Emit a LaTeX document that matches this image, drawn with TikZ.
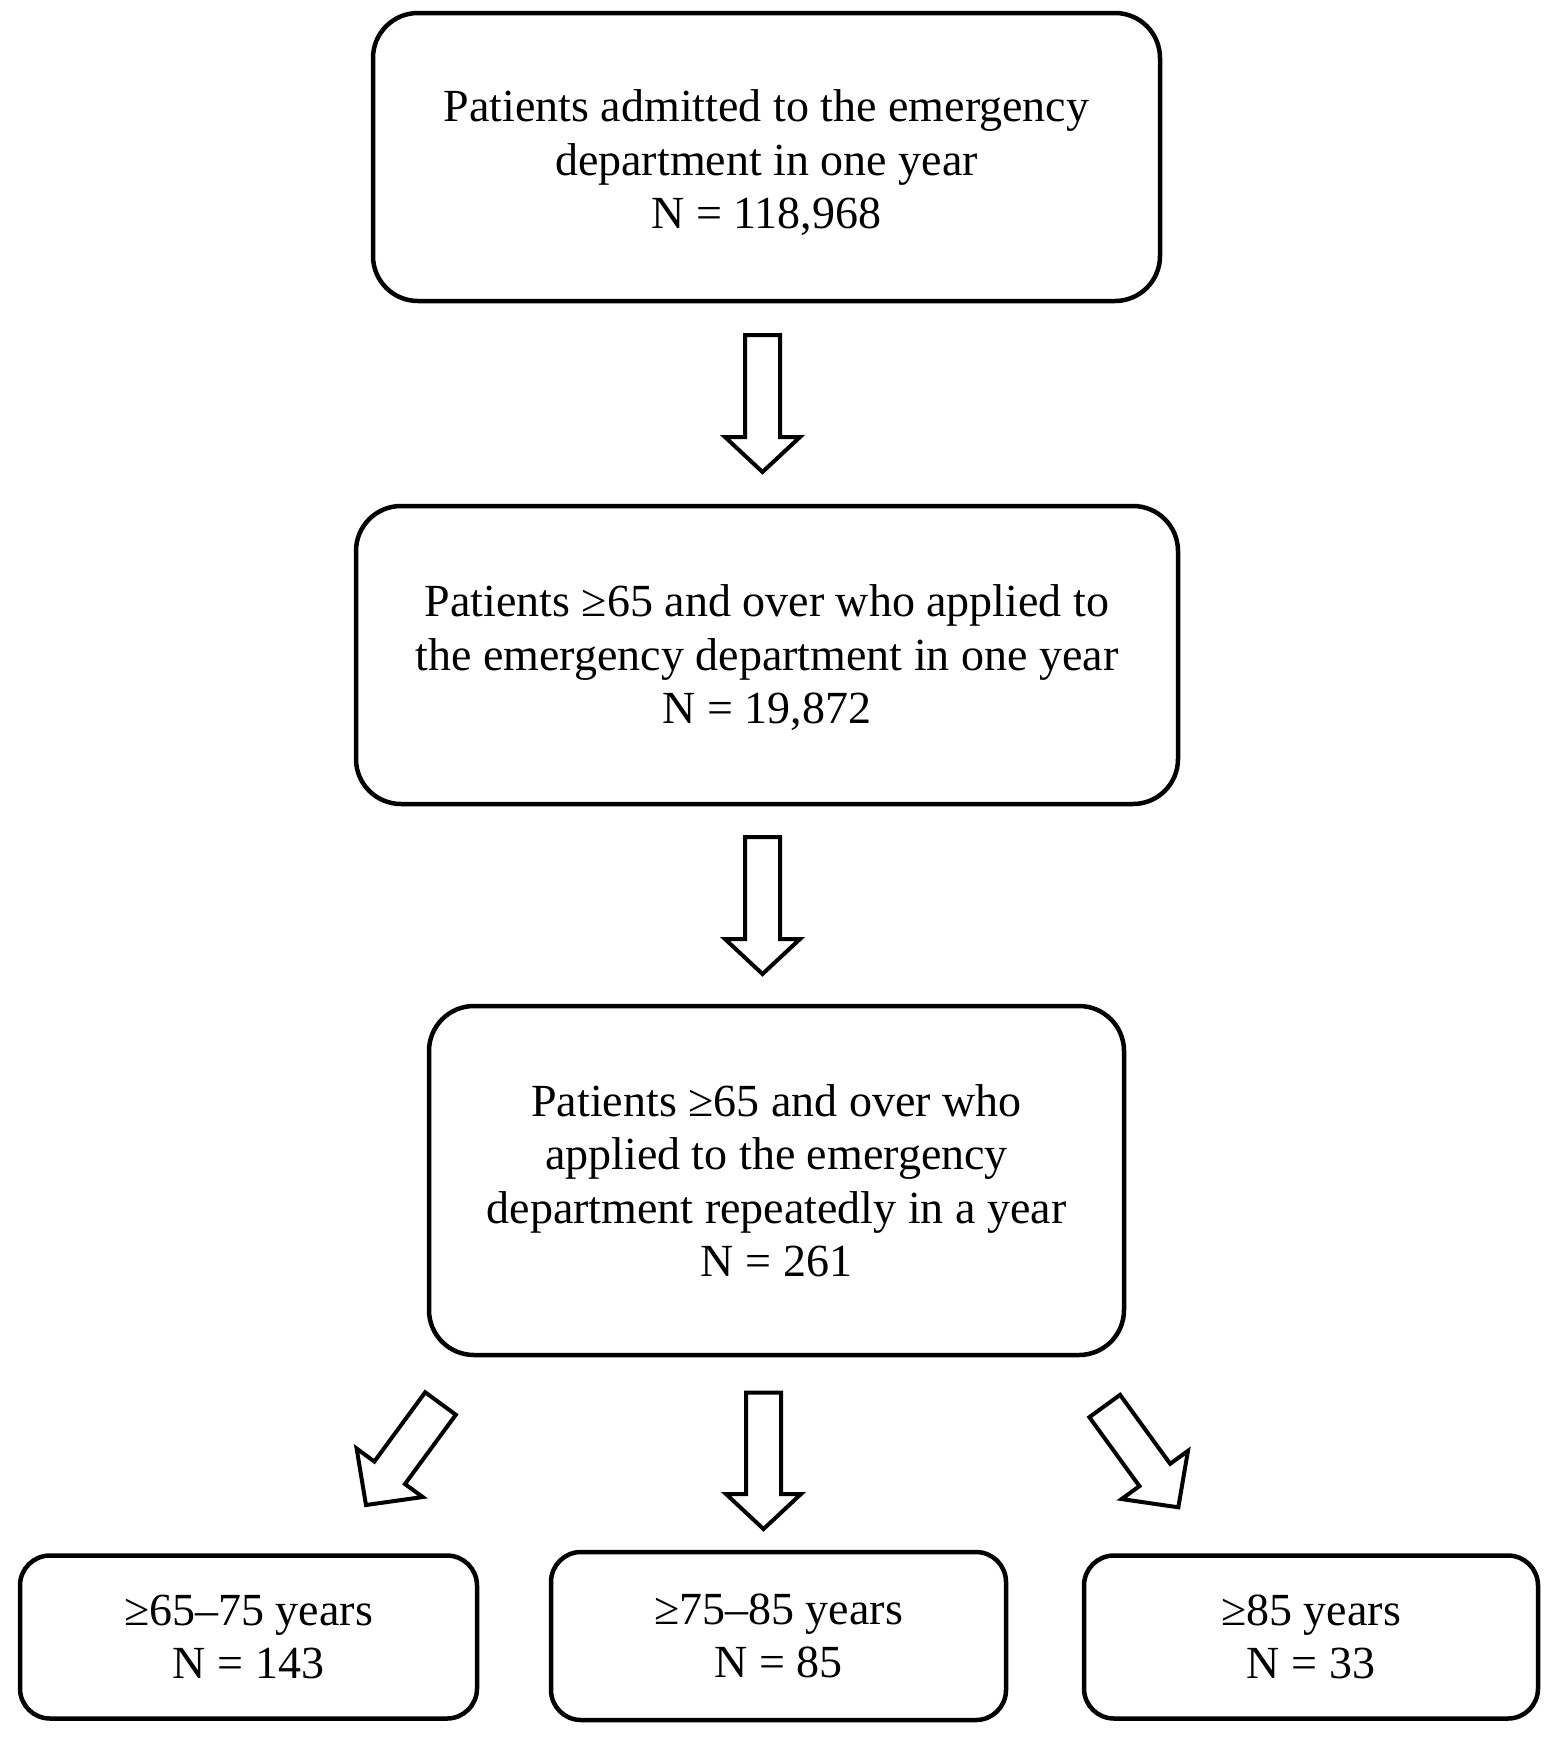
\documentclass[tikz,border=0pt]{standalone}
\usepackage{fontspec}
\setmainfont{Liberation Serif}
\usetikzlibrary{calc}
\tikzset{
  boxnode/.style={draw=black, line width=4.5pt, rounded corners=45pt, inner sep=0pt,
    align=center, font=\fontsize{46}{53.5}\selectfont, fill=white},
  smallbox/.style={boxnode, rounded corners=30pt},
  arrowline/.style={draw=black, line width=4pt, line join=miter, fill=white}
}
% #1 start, #2 tip, #3 half shaft width, #4 half head width, #5 head length, #6 name
\newcommand\blkarrow[6]{%
  \coordinate (#6neck) at ($(#2)!#5!(#1)$);
  \draw[arrowline] ($(#1)!#3!90:(#2)$) -- ($(#6neck)!#3!90:(#2)$) -- ($(#6neck)!#4!90:(#2)$)
    -- (#2) -- ($(#6neck)!#4!-90:(#2)$) -- ($(#6neck)!#3!-90:(#2)$) -- ($(#1)!#3!-90:(#2)$) -- cycle;
}
\begin{document}
\begin{tikzpicture}[x=1pt,y=-1pt]
\path[use as bounding box, fill=white] (0,0) rectangle (1552,1746);

\node[boxnode, minimum width=787pt, minimum height=288pt] (b1) at (766.5,157)
  {\rule{0pt}{44pt}Patients admitted to the emergency\\department in one year\\N = 118,968};
\node[boxnode, minimum width=822pt, minimum height=298pt] (b2) at (767,655)
  {\rule{0pt}{38pt}Patients ≥65 and over who applied to\\the emergency department in one year\\N = 19,872};
\node[boxnode, minimum width=695pt, minimum height=349pt] (b3) at (776.5,1180.5)
  {Patients ≥65 and over who\\applied to the emergency\\department repeatedly in a year\\N = 261};
\node[smallbox, minimum width=457pt, minimum height=163pt] (c1) at (248.5,1637)
  {≥65–75 years\\N = 143};
\node[smallbox, minimum width=455pt, minimum height=168pt] (c2) at (778.5,1636)
  {≥75–85 years\\N = 85};
\node[smallbox, minimum width=454pt, minimum height=163pt] (c3) at (1311,1637)
  {≥85 years\\N = 33};

\coordinate (a1s) at (762.5,335);   \coordinate (a1e) at (762.5,472);
\coordinate (a2s) at (762.5,837);   \coordinate (a2e) at (762.5,974);
\coordinate (a3s) at (440.5,1403.5); \coordinate (a3e) at (366,1505);
\coordinate (a4s) at (763.5,1392.7); \coordinate (a4e) at (763.5,1529);
\coordinate (a5s) at (1104.7,1406); \coordinate (a5e) at (1178.3,1507.3);

\blkarrow{a1s}{a1e}{17.5pt}{37.5pt}{35pt}{a1}
\blkarrow{a2s}{a2e}{17.5pt}{37.5pt}{35pt}{a2}
\blkarrow{a3s}{a3e}{19pt}{41pt}{40pt}{a3}
\blkarrow{a4s}{a4e}{17.5pt}{37.5pt}{35pt}{a4}
\blkarrow{a5s}{a5e}{19pt}{41pt}{40pt}{a5}
\end{tikzpicture}
\end{document}
